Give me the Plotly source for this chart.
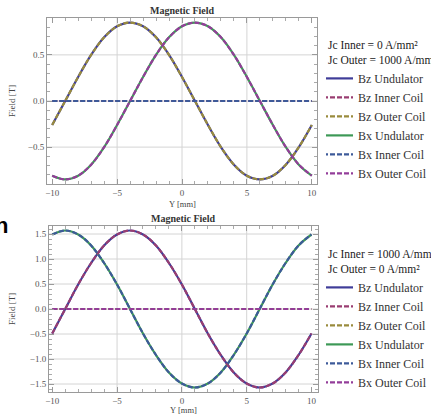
import plotly.graph_objects as go

# ---------------- data ----------------
Y_MM = [-10, -9, -8, -7, -6, -5, -4, -3, -2, -1, 0, 1, 2, 3, 4, 5, 6, 7, 8, 9, 10]

# Top panel: Jc Inner = 0, Jc Outer = 1000
TOP_BZ = [-0.26, 0.0, 0.26, 0.50, 0.69, 0.81, 0.85, 0.81, 0.69, 0.50, 0.26,
          0.0, -0.26, -0.50, -0.69, -0.81, -0.85, -0.81, -0.69, -0.50, -0.26]
TOP_BX = [-0.81, -0.85, -0.81, -0.69, -0.50, -0.26, 0.0, 0.26, 0.50, 0.69, 0.81,
          0.85, 0.81, 0.69, 0.50, 0.26, 0.0, -0.26, -0.50, -0.69, -0.81]
# Bottom panel: Jc Inner = 1000, Jc Outer = 0
BOT_BZ = [-0.49, 0.0, 0.49, 0.92, 1.27, 1.49, 1.57, 1.49, 1.27, 0.92, 0.49,
          0.0, -0.49, -0.92, -1.27, -1.49, -1.57, -1.49, -1.27, -0.92, -0.49]
BOT_BX = [1.49, 1.57, 1.49, 1.27, 0.92, 0.49, 0.0, -0.49, -0.92, -1.27, -1.49,
          -1.57, -1.49, -1.27, -0.92, -0.49, 0.0, 0.49, 0.92, 1.27, 1.49]
ZERO = [0.0] * 21

SERIES_NAMES = ["Bz Undulator", "Bz Inner Coil", "Bz Outer Coil",
                "Bx Undulator", "Bx Inner Coil", "Bx Outer Coil"]
TOP_SERIES = [TOP_BZ, ZERO, TOP_BZ, TOP_BX, ZERO, TOP_BX]
BOT_SERIES = [BOT_BZ, BOT_BZ, ZERO, BOT_BX, BOT_BX, ZERO]

X_TICKS = [-10, -5, 0, 5, 10]
TOP_Y_TICKS = [-0.5, 0.0, 0.5]
BOT_Y_TICKS = [-1.5, -1.0, -0.5, 0.0, 0.5, 1.0, 1.5]

TOP_LEGEND_TITLE = "Jc Inner = 0 A/mm²<br>Jc Outer = 1000 A/mm²"
BOT_LEGEND_TITLE = "Jc Inner = 1000 A/mm²<br>Jc Outer = 0 A/mm²"
PLOT_TITLE = "Magnetic Field"
X_TITLE = "Y [mm]"
Y_TITLE = "Field [T]"

# ---------------- style ----------------
COLORS = ["#3F3D99", "#993D71", "#998B3D", "#3D9956", "#3D5A99", "#933D99"]
DASHES = ["solid", "5px,2px", "5px,2px", "solid", "5px,2px", "5px,2px"]
DRAW_ORDER = [0, 3, 1, 2, 4, 5]   # solid lines first, dashed on top
SERIF = "Liberation Serif"
W, H = 431, 417

fig = go.Figure()

for series, xa, ya, lg in ((TOP_SERIES, "x", "y", "legend"),
                           (BOT_SERIES, "x2", "y2", "legend2")):
    for i in DRAW_ORDER:
        fig.add_trace(go.Scatter(
            x=Y_MM, y=series[i], name=SERIES_NAMES[i], mode="lines",
            line=dict(color=COLORS[i], width=2.2, dash=DASHES[i], shape="spline"),
            xaxis=xa, yaxis=ya, legend=lg, legendrank=i + 1))

def px_x(p):
    return p / W

def px_y(p):
    return 1 - p / H

axis_common = dict(
    showline=True, linecolor="#9a9a9a", linewidth=1, mirror="allticks",
    ticks="inside", ticklen=5, tickcolor="#9a9a9a", showgrid=False,
    zeroline=False, tickfont=dict(family=SERIF, size=9, color="#555"),
)

top_dom_x = [px_x(47), px_x(317)]
top_dom_y = [px_y(184), px_y(18)]
bot_dom_x = [px_x(49), px_x(318)]
bot_dom_y = [px_y(392), px_y(226)]

legend_common = dict(xanchor="left", yanchor="top", bgcolor="rgba(0,0,0,0)",
                     indentation=-8, traceorder="normal",
                     font=dict(family=SERIF, size=12, color="#333"))

fig.update_layout(
    width=W, height=H,
    margin=dict(l=0, r=0, t=0, b=0, autoexpand=False),
    paper_bgcolor="white", plot_bgcolor="white",
    xaxis=dict(domain=top_dom_x, anchor="y", range=[-10.4, 10.4],
               tickvals=X_TICKS,
               minor=dict(ticks="inside", ticklen=3, dtick=1, tick0=0,
                          tickcolor="#aaaaaa", showgrid=False),
               **axis_common),
    yaxis=dict(domain=top_dom_y, anchor="x", range=[-0.9, 0.9],
               tickvals=TOP_Y_TICKS, tickformat=".1f",
               minor=dict(ticks="inside", ticklen=3, dtick=0.1, tick0=0,
                          tickcolor="#aaaaaa", showgrid=False),
               **axis_common),
    xaxis2=dict(domain=bot_dom_x, anchor="y2", range=[-10.25, 10.5],
                tickvals=X_TICKS,
                minor=dict(ticks="inside", ticklen=3, dtick=1, tick0=0,
                           tickcolor="#aaaaaa", showgrid=False),
                **axis_common),
    yaxis2=dict(domain=bot_dom_y, anchor="x2", range=[-1.66, 1.66],
                tickvals=BOT_Y_TICKS, tickformat=".1f",
                minor=dict(ticks="inside", ticklen=3, dtick=0.1, tick0=0,
                           tickcolor="#aaaaaa", showgrid=False),
                **axis_common),
    legend=dict(x=px_x(326), y=px_y(34),
                title=dict(text=TOP_LEGEND_TITLE,
                           font=dict(family=SERIF, size=11.5, color="#222")),
                **legend_common),
    legend2=dict(x=px_x(326), y=px_y(243),
                 title=dict(text=BOT_LEGEND_TITLE,
                            font=dict(family=SERIF, size=11.5, color="#222")),
                 **legend_common),
    showlegend=True,
)

# grid lines at the inner major ticks
shapes = []
for xa, ya, yt in (("x", "y", TOP_Y_TICKS), ("x2", "y2", BOT_Y_TICKS)):
    for xv in X_TICKS[1:-1]:
        shapes.append(dict(type="line", xref=xa, yref=ya + " domain",
                           x0=xv, x1=xv, y0=0, y1=1, layer="below",
                           line=dict(color="#d4d4d4", width=1)))
    for yv in yt:
        shapes.append(dict(type="line", xref=xa + " domain", yref=ya,
                           x0=0, x1=1, y0=yv, y1=yv, layer="below",
                           line=dict(color="#d4d4d4", width=1)))
fig.update_layout(shapes=shapes)

annos = []
for dom_x, dom_y, xt_y in ((top_dom_x, top_dom_y, px_y(204)),
                           (bot_dom_x, bot_dom_y, px_y(410))):
    cx = (dom_x[0] + dom_x[1]) / 2
    annos.append(dict(text="<b>" + PLOT_TITLE + "</b>", xref="paper", yref="paper",
                      x=cx, y=dom_y[1], yanchor="bottom", xanchor="center",
                      showarrow=False,
                      font=dict(family=SERIF, size=10, color="#333")))
    annos.append(dict(text=X_TITLE, xref="paper", yref="paper",
                      x=cx, y=xt_y, yanchor="middle", xanchor="center",
                      showarrow=False,
                      font=dict(family=SERIF, size=8.5, color="#444")))
    annos.append(dict(text=Y_TITLE, xref="paper", yref="paper",
                      x=px_x(12), y=(dom_y[0] + dom_y[1]) / 2, textangle=-90,
                      yanchor="middle", xanchor="center", showarrow=False,
                      font=dict(family=SERIF, size=9, color="#444")))
# stray cropped glyph at the left edge (partly outside the picture, as in the source)
annos.append(dict(text="<b>n</b>", xref="paper", yref="paper",
                  x=px_x(10), y=px_y(226), xanchor="right", yanchor="middle",
                  showarrow=False,
                  font=dict(family="Liberation Sans", size=22, color="black")))
fig.update_layout(annotations=annos)

fig.write_html("out.html")
